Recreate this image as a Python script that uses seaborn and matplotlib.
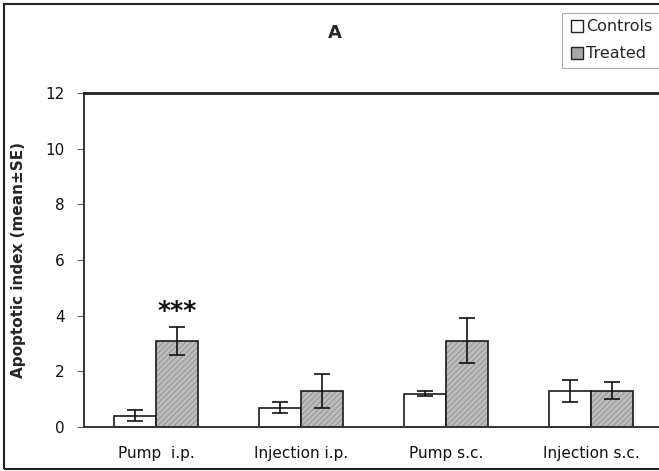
import matplotlib
matplotlib.use("Agg")
import matplotlib.pyplot as plt
import seaborn as sns
import pandas as pd
from matplotlib.colors import to_rgba
from matplotlib.patches import Rectangle
from matplotlib.lines import Line2D

categories = ["Pump  i.p.", "Injection i.p.", "Pump s.c.", "Injection s.c."]
groups = ["Controls", "Treated"]
controls_mean = [0.4, 0.7, 1.2, 1.3]
controls_se = [0.2, 0.2, 0.1, 0.4]
treated_mean = [3.1, 1.3, 3.1, 1.3]
treated_se = [0.5, 0.6, 0.8, 0.3]
yticks = [0, 2, 4, 6, 8, 10, 12]

df = pd.DataFrame({
    "category": categories * 2,
    "group": ["Controls"] * 4 + ["Treated"] * 4,
    "mean": controls_mean + treated_mean,
    "se": controls_se + treated_se,
})

sns.set_style("white")
plt.rcParams["font.family"] = ["DejaVu Sans"]
plt.rcParams["hatch.linewidth"] = 0.6

fig = plt.figure(figsize=(6.59, 4.71), dpi=100)
ax = fig.add_axes([84 / 659, 1 - 427 / 471, 1 - 84 / 659, (427 - 93) / 471])

sns.barplot(data=df, x="category", y="mean", hue="group", order=categories,
            hue_order=groups, palette={"Controls": "white", "Treated": "#bcbcbc"},
            width=0.58, errorbar=None, edgecolor="#1a1a1a", linewidth=1.2,
            legend=False, ax=ax)

bars = [p for p in ax.patches if isinstance(p, Rectangle) and p.get_width() > 0]
bars = sorted(bars, key=lambda p: p.get_x())
means = []
ses = []
for i in range(len(categories)):
    means += [controls_mean[i], treated_mean[i]]
    ses += [controls_se[i], treated_se[i]]
for k, p in enumerate(bars):
    xc = p.get_x() + p.get_width() / 2
    if k % 2 == 1:
        p.set_hatch("//////")
        p._hatch_color = to_rgba("#8e8e8e")
    ax.errorbar(xc, means[k], yerr=ses[k], color="#111111", capsize=5.5,
                elinewidth=1.2, capthick=1.2, zorder=5)

# significance marker
tb = bars[1]
ax.text(tb.get_x() + tb.get_width() / 2, 4.15, "***", ha="center", va="center",
        fontsize=18, fontweight="bold", color="#111111")

ax.set_ylim(0, 12)
ax.set_yticks(yticks)
ax.set_yticklabels([str(t) for t in yticks], fontsize=11, color="#111111")
ax.set_xlim(-0.5, 3.47)
ax.set_xticks(range(len(categories)))
ax.set_xticklabels(categories, fontsize=11, color="#111111")
ax.tick_params(axis="x", which="major", length=0, pad=14)
ax.set_xticks([0.5, 1.5, 2.5], minor=True)
ax.tick_params(axis="x", which="minor", length=6, width=0.8, color="#666666", direction="out")
ax.tick_params(axis="y", length=5, width=0.8, color="#666666", direction="out", left=True, pad=9)
ax.set_xlabel("")
ax.set_ylabel("Apoptotic index (mean\u00b1SE)", fontsize=11, fontweight="bold", labelpad=14)

for s in ["left", "bottom", "top"]:
    ax.spines[s].set_visible(True)
    ax.spines[s].set_color("#222222")
ax.spines["left"].set_linewidth(1.3)
ax.spines["bottom"].set_linewidth(1.4)
ax.spines["bottom"].set_color("#333333")
ax.spines["top"].set_linewidth(2.0)
ax.spines["right"].set_visible(False)

fig.text(335 / 659, 1 - 33 / 471, "A", ha="center", va="center", fontsize=13, fontweight="bold")

handles = [
    Line2D([], [], marker="s", linestyle="none", markersize=8.5, markerfacecolor="white",
           markeredgecolor="#222222", markeredgewidth=1.0),
    Line2D([], [], marker="s", linestyle="none", markersize=8.5, markerfacecolor="#a8a8a8",
           markeredgecolor="#222222", markeredgewidth=1.0),
]
leg = fig.legend(handles, groups, loc="upper right", bbox_to_anchor=(659 / 659, 1 - 13 / 471),
                 borderaxespad=0, fontsize=11.5, frameon=True, fancybox=False,
                 handletextpad=0.1, handlelength=1.0, borderpad=0.4, labelspacing=0.75)
leg.get_frame().set_edgecolor("#999999")
leg.get_frame().set_linewidth(0.8)

fig.patches.append(Rectangle((4 / 659, 2 / 471), 700 / 659, 465 / 471, transform=fig.transFigure,
                             fill=False, edgecolor="#222222", linewidth=1.5))

fig.savefig("out.png", dpi=100)
